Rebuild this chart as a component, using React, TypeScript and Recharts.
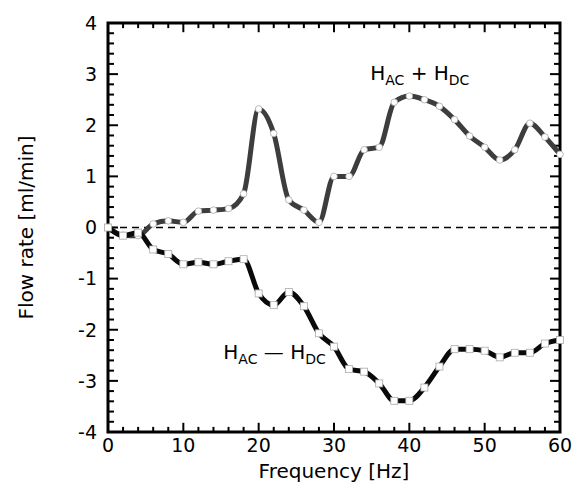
import React from 'react';
import { LineChart, Line, XAxis, YAxis, ReferenceLine, ReferenceDot, ReferenceArea } from 'recharts';

// frequency steps [Hz]
const freq = [0, 2, 4, 6, 8, 10, 12, 14, 16, 18, 20, 22, 24, 26, 28, 30, 32, 34, 36, 38, 40, 42, 44, 46, 48, 50, 52, 54, 56, 58, 60];

// H_AC + H_DC  (circles)
const sumFlow = [0, -0.15, -0.16, 0.07, 0.13, 0.1, 0.32, 0.34, 0.37, 0.66, 2.32, 1.84, 0.54, 0.34, 0.1, 1.0, 1.0, 1.52, 1.57, 2.45, 2.57, 2.5, 2.37, 2.11, 1.79, 1.57, 1.32, 1.52, 2.04, 1.77, 1.43];

// H_AC - H_DC  (squares)
const diffFlow = [0, -0.16, -0.1, -0.43, -0.52, -0.72, -0.68, -0.72, -0.66, -0.62, -1.29, -1.52, -1.26, -1.54, -2.07, -2.33, -2.77, -2.82, -3.05, -3.39, -3.39, -3.13, -2.72, -2.38, -2.38, -2.41, -2.54, -2.45, -2.45, -2.27, -2.2];

const xTicks = [0, 2, 4, 6, 8, 10, 12, 14, 16, 18, 20, 22, 24, 26, 28, 30, 32, 34, 36, 38, 40, 42, 44, 46, 48, 50, 52, 54, 56, 58, 60];
const yTicks = [-4, -3.8, -3.6, -3.4, -3.2, -3, -2.8, -2.6, -2.4, -2.2, -2, -1.8, -1.6, -1.4, -1.2, -1, -0.8, -0.6, -0.4, -0.2, 0,
  0.2, 0.4, 0.6, 0.8, 1, 1.2, 1.4, 1.6, 1.8, 2, 2.2, 2.4, 2.6, 2.8, 3, 3.2, 3.4, 3.6, 3.8, 4];

const data = freq.map((f, i) => ({ f, sum: sumFlow[i], diff: diffFlow[i] }));

const FONT = '"DejaVu Sans", sans-serif';
const X_MIN = 0, X_MAX = 60, Y_MIN = -4, Y_MAX = 4;

const isMajorX = (v: number) => Math.abs(v % 10) < 1e-6;
const isMajorY = (v: number) => Math.abs(v - Math.round(v)) < 1e-6;

// inward tick lengths, in data units (about 9/5 px vertically, 10/6 px horizontally)
const xTickLen = (v: number) => (isMajorX(v) ? 0.18 : 0.1);
const yTickLen = (v: number) => (isMajorY(v) ? 1.33 : 0.8);

const BottomLabel = ({ x, y, payload }: any) =>
  isMajorX(payload.value) ? (
    <text x={x} y={y + 20} textAnchor="middle" fontSize={19} fontFamily={FONT} fill="#000">
      {payload.value}
    </text>
  ) : (
    <g />
  );

const LeftLabel = ({ x, y, payload }: any) =>
  isMajorY(payload.value) ? (
    <text x={x - 11} y={y} dy="0.36em" textAnchor="end" fontSize={19} fontFamily={FONT} fill="#000">
      {Math.round(payload.value)}
    </text>
  ) : (
    <g />
  );

const SquareDot = (props: any) => {
  const { cx, cy, index } = props;
  return <rect key={`sq-${index}`} x={cx - 3.5} y={cy - 3.5} width={7} height={7} fill="#fff" stroke="#aaa" strokeWidth={0.8} />;
};

const annotation = (op: string) => (props: any) => (
  <text x={props.cx} y={props.cy} fontFamily={FONT} fontSize={20} fill="#000">
    H<tspan fontSize={14} dy={5}>AC</tspan>
    <tspan dy={-5}>{` ${op} `}</tspan>H<tspan fontSize={14} dy={5}>DC</tspan>
  </text>
);

const tickStyle = { stroke: '#000', strokeWidth: 2 };

export default function App() {
  return (
    <div style={{ position: 'absolute', left: 0, top: 0, width: 582, height: 500, background: '#fff' }}>
      <LineChart width={582} height={500} data={data} margin={{ top: 23, right: 22, bottom: 38, left: 48 }}>
        <XAxis
          dataKey="f"
          type="number"
          domain={[X_MIN, X_MAX]}
          ticks={xTicks}
          interval={0}
          tickSize={0}
          tickMargin={0}
          height={30}
          axisLine={false}
          tickLine={false}
          tick={<BottomLabel />}
          label={{
            content: ({ viewBox }: any) => (
              <text x={viewBox.x + viewBox.width / 2} y={viewBox.y + 46} textAnchor="middle" fontSize={20} fontFamily={FONT} fill="#000">
                Frequency [Hz]
              </text>
            ),
          }}
        />
        <YAxis
          type="number"
          domain={[Y_MIN, Y_MAX]}
          ticks={yTicks}
          interval={0}
          tickSize={0}
          tickMargin={0}
          width={60}
          axisLine={false}
          tickLine={false}
          tick={<LeftLabel />}
          label={{
            content: ({ viewBox }: any) => {
              const cx = viewBox.x - 22;
              const cy = viewBox.y + viewBox.height / 2;
              return (
                <text x={cx} y={cy} transform={`rotate(-90 ${cx} ${cy})`} textAnchor="middle" dy="0.36em" fontSize={20} fontFamily={FONT} fill="#000">
                  Flow rate  [ml/min]
                </text>
              );
            },
          }}
        />

        {/* inward ticks on all four sides */}
        {xTicks.map((v) => (
          <ReferenceLine key={`xb-${v}`} segment={[{ x: v, y: Y_MIN }, { x: v, y: Y_MIN + xTickLen(v) }]} {...tickStyle} />
        ))}
        {xTicks.map((v) => (
          <ReferenceLine key={`xt-${v}`} segment={[{ x: v, y: Y_MAX }, { x: v, y: Y_MAX - xTickLen(v) }]} {...tickStyle} />
        ))}
        {yTicks.map((v) => (
          <ReferenceLine key={`yl-${v}`} segment={[{ x: X_MIN, y: v }, { x: X_MIN + yTickLen(v), y: v }]} {...tickStyle} />
        ))}
        {yTicks.map((v) => (
          <ReferenceLine key={`yr-${v}`} segment={[{ x: X_MAX, y: v }, { x: X_MAX - yTickLen(v), y: v }]} {...tickStyle} />
        ))}

        <ReferenceArea x1={X_MIN} x2={X_MAX} y1={Y_MIN} y2={Y_MAX} fill="none" fillOpacity={0} stroke="#000" strokeWidth={3} />
        <ReferenceLine y={0} stroke="#000" strokeWidth={1.5} strokeDasharray="7 5" />

        <Line
          dataKey="sum"
          type="monotone"
          stroke="#3d3d3d"
          strokeWidth={5}
          dot={{ r: 3.3, fill: '#fff', stroke: '#aaa', strokeWidth: 0.8 }}
          isAnimationActive={false}
        />
        <Line
          dataKey="diff"
          type="monotone"
          stroke="#0a0a0a"
          strokeWidth={5}
          dot={SquareDot}
          isAnimationActive={false}
        />
        <ReferenceDot x={34.8} y={2.89} r={0} shape={annotation('+')} />
        <ReferenceDot x={15.3} y={-2.57} r={0} shape={annotation('\u2014')} />
      </LineChart>
    </div>
  );
}
